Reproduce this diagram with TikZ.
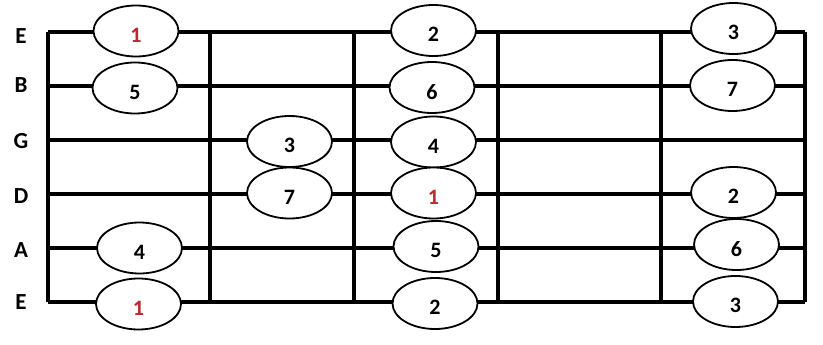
\documentclass[tikz,border=0pt]{standalone}
\usepackage{fontspec}
\setmainfont{Carlito}
\usetikzlibrary{shapes.geometric}
\definecolor{rootred}{HTML}{C0282D}
\begin{document}
\begin{tikzpicture}[x=1pt,y=-1pt,
  stringline/.style={line width=3.2pt},
  note/.style={ellipse, draw, line width=1.8pt, fill=white, minimum width=85pt, minimum height=51pt, inner sep=0pt, font=\bfseries\fontsize{22}{22}\selectfont},
  root/.style={note, text=rootred},
  strname/.style={font=\bfseries\fontsize{23}{23}\selectfont, inner sep=0pt}]
\newcommand{\dn}[1]{\raisebox{-4pt}[\height][0pt]{#1}}
\useasboundingbox (0,0) rectangle (823,345);
% strings
\foreach \y in {32,86,140,194,248,302}
  \draw[stringline] (48,\y) -- (805,\y);
% frets
\foreach \x in {48,210,354,498,661,805}
  \draw[stringline] (\x,32) -- (\x,302);
% string names
\node[strname] (sE1) at (21,36) {E};
\node[strname] (sB) at (21,85) {B};
\node[strname] (sG) at (21,141.5) {G};
\node[strname] (sD) at (21,196) {D};
\node[strname] (sA) at (21,250) {A};
\node[strname] (sE6) at (21,302.5) {E};
% notes, first column
\node[root] (a1) at (136,31) {\dn{1}};
\node[note] (a2) at (135,88) {\dn{5}};
\node[note] (a5) at (139.5,248) {\dn{4}};
\node[root] (a6) at (138.5,304) {\dn{1}};
% second column
\node[note] (b3) at (289.5,141.5) {\dn{3}};
\node[note] (b4) at (289.5,193) {\dn{7}};
% third column
\node[note] (c1) at (433.5,30.5) {\dn{2}};
\node[note] (c2) at (432,87.5) {\dn{6}};
\node[note] (c3) at (433.5,142) {\dn{4}};
\node[root] (c4) at (433.5,193) {\dn{1}};
\node[note] (c5) at (436,246.5) {\dn{5}};
\node[note] (c6) at (435,303.5) {\dn{2}};
% fourth column
\node[note] (d1) at (733.5,28.5) {\dn{3}};
\node[note] (d2) at (732.5,85.5) {\dn{7}};
\node[note] (d4) at (733.5,192.5) {\dn{2}};
\node[note] (d5) at (736.5,244.5) {\dn{6}};
\node[note] (d6) at (735.5,301.5) {\dn{3}};
\end{tikzpicture}
\end{document}
